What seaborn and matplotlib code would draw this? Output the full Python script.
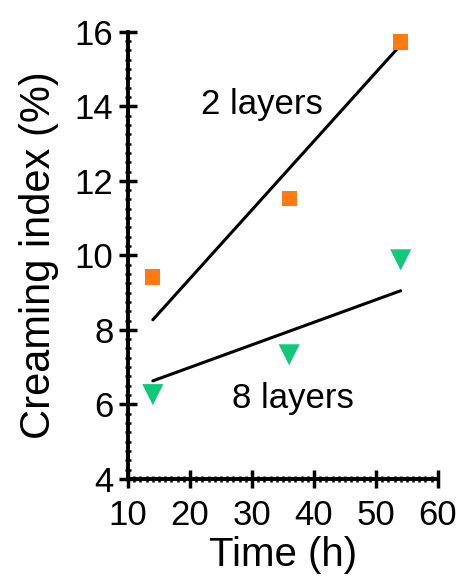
import matplotlib
matplotlib.use("Agg")
import matplotlib.pyplot as plt
import seaborn as sns
import pandas as pd
from matplotlib.ticker import MultipleLocator

sns.set_style("ticks")
plt.rcParams['font.family'] = ['Liberation Sans', 'DejaVu Sans']
plt.rcParams.update({"text.color": "black", "axes.labelcolor": "black",
                     "xtick.color": "black", "ytick.color": "black",
                     "axes.edgecolor": "black"})

time_h = [14, 36, 54]
ci_2_layers = [9.42, 11.52, 15.73]
ci_8_layers = [6.26, 7.33, 9.88]

fit_time = [14, 54]
fit_2_layers = [8.27, 15.65]
fit_8_layers = [6.63, 9.05]

x_ticks = [10, 20, 30, 40, 50, 60]
y_ticks = [4, 6, 8, 10, 12, 14, 16]

pts2 = pd.DataFrame({"Time": time_h, "CI": ci_2_layers})
pts8 = pd.DataFrame({"Time": time_h, "CI": ci_8_layers})
fit2 = pd.DataFrame({"Time": fit_time, "CI": fit_2_layers})
fit8 = pd.DataFrame({"Time": fit_time, "CI": fit_8_layers})

fig = plt.figure(figsize=(4.59, 5.79), dpi=100)
ax = fig.add_axes([0.279, 0.173, 0.675, 0.772])

sns.lineplot(data=fit2, x="Time", y="CI", color="black", linewidth=2.2, ax=ax)
sns.lineplot(data=fit8, x="Time", y="CI", color="black", linewidth=2.2, ax=ax)
sns.scatterplot(data=pts2, x="Time", y="CI", marker="s", s=120, color="#FF7A10",
                edgecolor="none", ax=ax, zorder=3)
sns.scatterplot(data=pts8, x="Time", y="CI", marker="v", s=230, color="#10C878",
                edgecolor="none", ax=ax, zorder=3)

ax.text(31.6, 14.05, "2 layers", fontsize=25, ha="center", va="center")
ax.text(36.6, 6.15, "8 layers", fontsize=25, ha="center", va="center")

ax.set_xlim(10, 60)
ax.set_ylim(4, 16)
ax.set_xticks(x_ticks)
ax.set_yticks(y_ticks)
ax.xaxis.set_minor_locator(MultipleLocator(1))
ax.yaxis.set_minor_locator(MultipleLocator(0.25))
ax.tick_params(which="major", length=13, width=2.5, labelsize=25, direction="inout")
ax.tick_params(axis="x", which="major", pad=8)
ax.tick_params(axis="y", which="major", pad=4)
ax.tick_params(which="minor", length=4, width=1.8, direction="inout")
ax.set_xlabel("Time (h)", fontsize=29, labelpad=3)
ax.set_ylabel("Creaming index (%)", fontsize=30, labelpad=11)
sns.despine(ax=ax)
for sp in ("left", "bottom"):
    ax.spines[sp].set_linewidth(2.8)

fig.savefig("out.png", dpi=100)
